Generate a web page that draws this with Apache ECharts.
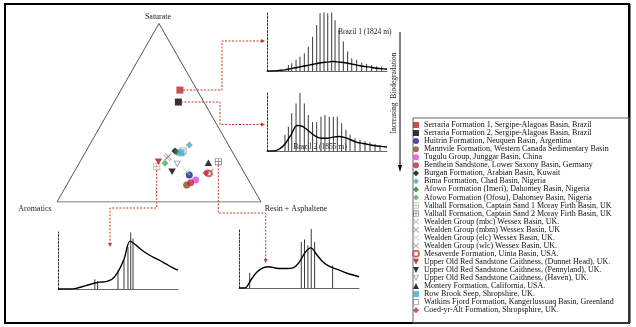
<!DOCTYPE html>
<html>
<head>
<meta charset="utf-8">
<script src="https://cdn.jsdelivr.net/npm/echarts@6/dist/echarts.min.js"></script>
<style>
  html,body{margin:0;padding:0;background:#fff;}
  #chart{width:636px;height:327px;}
</style>
</head>
<body>
<div id="chart"></div>
<script>
// ternary composition of each oil (percent): saturate / aromatics / resin+asphaltene
var sampleNames = [
  "Serraria Formation 1, Sergipe-Alagoas Basin, Brazil",
  "Serraria Formation 2, Sergipe-Alagoas Basin, Brazil",
  "Huitrin Formation, Neuquen Basin, Argentina",
  "Mannvile Formation, Western Canada Sedimentary Basin",
  "Tugulu Group, Junggar Basin, China",
  "Benthein Sandstone, Lower Saxony Basin, Germany",
  "Burgan Formation, Arabian Basin, Kuwait",
  "Bima Formation, Chad Basin, Nigeria",
  "Afowo Formation (Imeri), Dahomey Basin, Nigeria",
  "Afowo Formation (Ofosu), Dahomey Basin, Nigeria",
  "Valhall Formation, Captain Sand 1 Moray Firth Basin, UK",
  "Valhall Formation, Captain Sand 2 Moray Firth Basin, UK",
  "Wealden Group (mbc) Wessex Basin, UK.",
  "Wealden Group (mbm) Wessex Basin, UK",
  "Wealden Group (elc) Wessex Basin, UK.",
  "Wealden Group (wlc) Wessex Basin, UK.",
  "Mesaverde Formation, Uinta Basin, USA.",
  "Upper Old Red Sandstone Caithness, (Dunnet Head), UK.",
  "Upper Old Red Sandstone Caithness, (Pennyland), UK.",
  "Upper Old Red Sandstone Caithness, (Haven), UK.",
  "Montery Formation, California, USA.",
  "Row Brook Seep, Shropshire, UK.",
  "Watkins Fjord Formation, Kangerlussuaq Basin, Greenland",
  "Coed-yr-Alt Formation, Shropsphire, UK."
];
var saturate  = [62.7, 56.0, 15.1,  9.5, 12.3, 10.8, 28.6, 31.9, 28.0, 21.7, 19.8, 22.6, 24.8, 25.4, 17.0, 16.8, 16.0, 22.6, 17.0, 21.3, 22.0, 27.6, 28.6, 16.2];
var aromatics = [ 8.4, 12.5, 27.6, 31.7, 25.9, 29.1, 27.9, 19.2, 27.4, 36.2, 41.2,  9.6, 33.8, 32.7, 27.9, 16.4, 17.5, 39.0, 35.1, 30.4, 14.8, 25.4, 23.9, 18.9];
var resinAsph = [28.9, 31.5, 57.3, 58.8, 61.8, 60.1, 43.5, 48.9, 44.6, 42.1, 39.0, 67.8, 41.4, 41.9, 55.1, 66.8, 66.5, 38.4, 47.9, 48.3, 63.2, 47.0, 47.5, 64.9];

// chromatograms: unresolved hump sampled every 5 units of retention, resolved peaks as [retention, height]
var humpX = [0,5,10,15,20,25,30,35,40,45,50,55,60,65,70,75,80,85,90,95,100];
var brazil1Hump = [0,0,1,2,4,6,8,10,12,14,15,16,15,14,12,10,8,7,5,4,3];
var brazil1Peaks = [[17.8,10],[20.6,13],[24.2,19],[27.5,24],[31.1,30],[34.4,41],[38,58],[41.4,78],[44.2,98],[47.5,99],[50.6,98],[53.9,99],[56.7,86],[60,70],[63.6,50],[67.2,33],[70.6,21],[74.7,19],[78.9,14],[83,12],[87.2,10],[91.4,8],[95.6,7]];
var brazil2Hump = [0,0,3,12,28,44,42,34,26,22,22,24,25,23,19,15,13,11,9,8,7];
var brazil2Peaks = [[15,28],[17.8,42],[20.6,65],[24.2,82],[27.5,100],[31.1,82],[34.4,62],[38,50],[41.4,50],[45,59],[48.3,62],[51.9,59],[55.3,59],[58.6,59],[62.2,48],[65.8,36],[69.2,28],[73.3,22],[77.5,19],[81.7,17],[85.8,15],[90,12],[94.2,10]];
var aromHump = [0,0,0,1,4,7,10,12,13,17,30,52,84,77,68,61,55,50,44,38,33];
var aromPeaks = [[30.7,17],[33,14],[50,33],[55,50],[58.3,74],[60.6,99],[62.5,88]];
var resinHump = [0,0,14,27,34,36,34,33,33,34,43,60,68,56,44,37,33,29,25,22,19];
var resinPeaks = [[8.9,26],[51.9,78],[54.6,82],[57.4,72],[60.2,100],[63,78],[78,38]];

var crossPath = 'path://M0,1L1,0L5,4L9,0L10,1L6,5L10,9L9,10L5,6L1,10L0,9L4,5Z';
var boxPlusPath = 'path://M0,0H10V10H0Z M1,1V4.5H4.5V1Z M5.5,1V4.5H9V1Z M1,5.5V9H4.5V5.5Z M5.5,5.5V9H9V5.5Z';
var triDownPath = 'path://M0,0H10L5,10Z';
var openTriDownPath = 'path://M0,0H10L5,10Z M1.8,1L5,7.6L8.2,1Z';
var openBoxPath = 'path://M0,0H10V10H0Z M1.3,1.3V8.7H8.7V1.3Z';

var markers = [
  ['rect','#b5261e'],['rect','#000'],['circle','#1b1b9a'],['circle','#8b4a1e'],
  ['circle','#dd44dd'],['circle','#c8262a'],['diamond','#000'],['diamond','#4aa5c4'],
  ['diamond','#2f6e3c'],['diamond','#4caf50'],[boxPlusPath,'#9a9a9a'],[boxPlusPath,'#555'],
  [crossPath,'#d09a9a'],[crossPath,'#8a7fb8'],[crossPath,'#a6e0a6'],[crossPath,'#8a8a8a'],
  ['emptyCircle','#d04545'],[triDownPath,'#a3161c'],[triDownPath,'#000'],[openTriDownPath,'#777'],
  ['triangle','#000'],['rect','#3aaed0'],[openBoxPath,'#888'],['diamond','#c8242a']
];

var chart = echarts.init(document.getElementById('chart'));
var serif = 'Liberation Serif';

var series = [];
var grids = [
  {left:57, top:23.5, width:204, height:178.5},
  {left:267, top:12, width:120, height:59},
  {left:267, top:93, width:120, height:58},
  {left:58, top:232, width:120, height:57},
  {left:239, top:229, width:120, height:59}
];
var xAxes = [{gridIndex:0, type:'value', min:0, max:1, show:false}];
var yAxes = [{gridIndex:0, type:'value', min:0, max:1, show:false}];
for (var g = 1; g < 5; g++) {
  xAxes.push({gridIndex:g, type:'value', min:0, max:100, axisLabel:{show:false}, axisTick:{show:false}, splitLine:{show:false},
    axisLine:{lineStyle:{color:'#666', width:1}}});
  yAxes.push({gridIndex:g, type:'value', min:0, max:100, axisLabel:{show:false}, axisTick:{show:false}, splitLine:{show:false},
    axisLine:{show:true, lineStyle:{color:'#333', width:1, type:[2,1.5]}}});
}

// triangle outline
series.push({type:'line', xAxisIndex:0, yAxisIndex:0, data:[[0,0],[0.5,1],[1,0],[0,0]], symbol:'none',
  lineStyle:{color:'#555', width:1}, silent:true, z:1});

for (var i = 0; i < sampleNames.length; i++) {
  var s = saturate[i] / 100, r = resinAsph[i] / 100;
  var sym = markers[i][0], col = markers[i][1];
  var open = (sym == 'emptyCircle');
  var size = (sym == 'triangle' || sym == triDownPath || sym == openTriDownPath) ? [7.5,6.5] : 7;
  if (open) size = 5.5;
  series.push({
    name: sampleNames[i], type:'scatter', xAxisIndex:0, yAxisIndex:0,
    data: [[r + s / 2, s]],
    symbol: sym, symbolSize: size,
    itemStyle: open ? {color:col, borderColor:col, borderWidth:1} : {color:col},
    z: (i == 22) ? 2 : 3
  });
}

function chrom(idx, hump, peaks) {
  var humpData = [];
  for (var k = 0; k < humpX.length; k++) humpData.push([humpX[k], hump[k]]);
  series.push({type:'line', xAxisIndex:idx, yAxisIndex:idx, data:humpData, symbol:'none', smooth:0.3,
    lineStyle:{color:'#000', width:1.4}, silent:true, z:3});
  series.push({type:'bar', xAxisIndex:idx, yAxisIndex:idx, data:peaks, barWidth:0.8,
    itemStyle:{color:'#3a3a3a'}, silent:true, z:2});
}
chrom(1, brazil1Hump, brazil1Peaks);
chrom(2, brazil2Hump, brazil2Peaks);
chrom(3, aromHump, aromPeaks);
chrom(4, resinHump, resinPeaks);

var red = '#c0392b';
var dash = {stroke:red, lineWidth:1, lineDash:[2,1.5], fill:null};
function connector(pts) {
  return {type:'polyline', shape:{points:pts}, style:dash, z:5, silent:true};
}
function arrowHead(x, y, dir) {
  var p = dir == 'r' ? [[x,y],[x-4,y-2],[x-4,y+2]] : [[x,y],[x-2,y-4],[x+2,y-4]];
  return {type:'polygon', shape:{points:p}, style:{fill:red}, z:5, silent:true};
}
function txt(x, y, t, size, align, extra) {
  var o = {type:'text', x:x, y:y, style:{text:t, fill:'#222', font:size + 'px ' + serif, align:align || 'center', verticalAlign:'middle'}, z:6, silent:true};
  if (extra) for (var k in extra) o[k] = extra[k];
  return o;
}

chart.setOption({
  animation:false,
  grid: grids,
  xAxis: xAxes,
  yAxis: yAxes,
  legend: {
    orient:'vertical', left:412, top:121, itemGap:0.05, itemWidth:6, itemHeight:6, padding:0,
    data: sampleNames, selectedMode:false,
    textStyle:{fontFamily:serif, fontSize:8, color:'#111', lineHeight:7.4}
  },
  series: series,
  graphic: [
    {type:'rect', shape:{x:5, y:4, width:624, height:319}, style:{stroke:'#000', lineWidth:2, fill:null}, silent:true},
    {type:'line', shape:{x1:629.5, y1:4, x2:629.5, y2:323}, style:{stroke:'#000', lineWidth:2}, silent:true},
    {type:'rect', shape:{x:413, y:118, width:216, height:205}, style:{stroke:'#666', lineWidth:1, fill:null}, silent:true},
    txt(158, 16.5, 'Saturate', 8),
    txt(35, 209, 'Aromatics', 8),
    txt(296, 209, 'Resin + Asphaltene', 8),
    txt(338, 32, 'Brazil 1 (1824 m)', 7.5, 'left'),
    txt(320, 147, 'Brazil 2 (1855 m)', 7.5),
    txt(394, 93, 'Increasing  Biodegradation', 7.5, 'center', {rotation:Math.PI / 2}),
    {type:'line', shape:{x1:400, y1:32, x2:400, y2:168}, style:{stroke:'#000', lineWidth:1}, silent:true},
    {type:'polygon', shape:{points:[[400,172],[398,165],[402,165]]}, style:{fill:'#000'}, silent:true},
    connector([[183,90],[222,90],[222,41],[262,41]]), arrowHead(265,41,'r'),
    connector([[181,102],[220,102],[220,124.5],[262,124.5]]), arrowHead(265,124.5,'r'),
    connector([[156.7,170],[156.7,208],[110,208],[110,243]]), arrowHead(110,247,'d'),
    connector([[218.3,165],[218.3,213],[265.7,213],[265.7,259]]), arrowHead(265.7,263,'d')
  ]
});
</script>
</body>
</html>
